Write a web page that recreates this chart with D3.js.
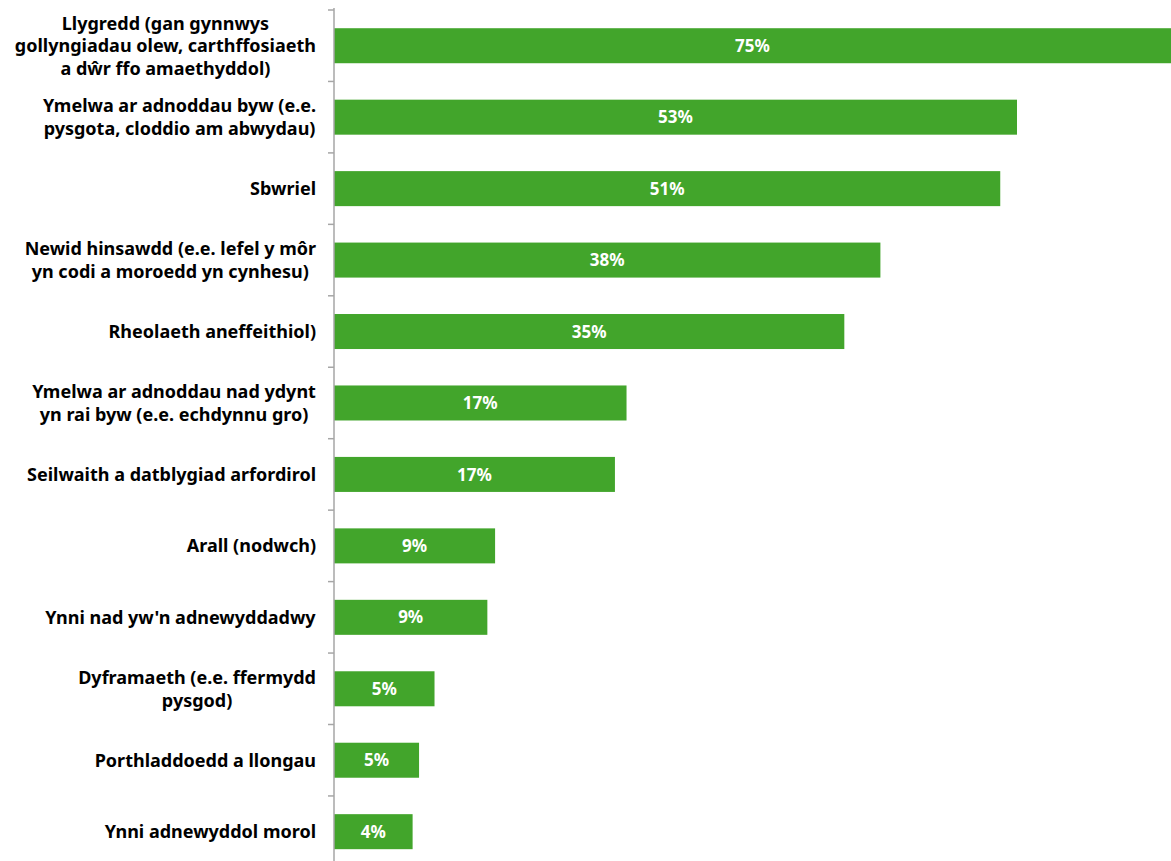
<!DOCTYPE html>
<html>
<head>
<meta charset="utf-8">
<script src="https://cdn.jsdelivr.net/npm/d3@7"></script>
<style>
  body { margin: 0; background: #fff; }
  text { font-family: "Noto Sans", sans-serif; font-weight: 700; }
</style>
</head>
<body>
<script>
// categories, each label split into its lines
const categories = [
  ["Llygredd (gan gynnwys", "gollyngiadau olew, carthffosiaeth", "a dŵr ffo amaethyddol)"],
  ["Ymelwa ar adnoddau byw (e.e.", "pysgota, cloddio am abwydau)"],
  ["Sbwriel"],
  ["Newid hinsawdd (e.e. lefel y môr", "yn codi a moroedd yn cynhesu)"],
  ["Rheolaeth aneffeithiol)"],
  ["Ymelwa ar adnoddau nad ydynt", "yn rai byw (e.e. echdynnu gro)"],
  ["Seilwaith a datblygiad arfordirol"],
  ["Arall (nodwch)"],
  ["Ynni nad yw'n adnewyddadwy"],
  ["Dyframaeth (e.e. ffermydd", "pysgod)"],
  ["Porthladdoedd a llongau"],
  ["Ynni adnewyddol morol"]
];
// printed labels
const pctLabels = ["75%", "53%", "51%", "38%", "35%", "17%", "17%", "9%", "9%", "5%", "5%", "4%"];
// bar lengths as drawn (first bar runs off the edge)
const barValues = [65, 53, 51.7, 42.4, 39.6, 22.7, 21.8, 12.5, 11.9, 7.8, 6.6, 6.1];

const W = 1171, H = 861;
const axisX = 334;
const svg = d3.select("body").append("svg").attr("width", W).attr("height", H);

const y = d3.scaleBand()
  .domain(d3.range(categories.length))
  .range([10, 10 + 71.45 * categories.length])
  .paddingInner(0.51).paddingOuter(0.255);

const x = d3.scaleLinear().domain([0, 53]).range([axisX, 1017]);

const rows = svg.selectAll(".row").data(barValues).enter().append("g").attr("class", "row");

rows.append("rect")
  .attr("x", axisX)
  .attr("y", (d, i) => y(i))
  .attr("width", d => Math.min(x(d), W) - axisX)
  .attr("height", y.bandwidth())
  .attr("fill", "#42a52b");

rows.append("text")
  .attr("x", d => (axisX + Math.min(x(d), W)) / 2)
  .attr("y", (d, i) => y(i) + y.bandwidth() / 2)
  .attr("dy", "0.36em")
  .attr("text-anchor", "middle")
  .attr("fill", "#fff")
  .style("font-size", "17px")
  .text((d, i) => pctLabels[i]);

// axis line and ticks between categories
svg.append("line")
  .attr("x1", axisX).attr("x2", axisX).attr("y1", 8).attr("y2", H)
  .attr("stroke", "#a6a6a6").attr("stroke-width", 1.5);
const step = y.step();
d3.range(categories.length + 1).forEach(k => {
  const ty = 10 + k * step;
  svg.append("line")
    .attr("x1", axisX - 6).attr("x2", axisX).attr("y1", ty).attr("y2", ty)
    .attr("stroke", "#a6a6a6").attr("stroke-width", 1.5);
});

// category labels: block right aligned, lines centred inside the block
const labelRight = 316, lineH = 22.5;
categories.forEach((lines, i) => {
  const g = svg.append("g");
  const cy = y(i) + y.bandwidth() / 2;
  const t = g.append("text").attr("text-anchor", "middle").style("font-size", "18px").attr("fill", "#000");
  lines.forEach((ln, j) => {
    t.append("tspan").attr("x", 0)
      .attr("y", cy + (j - (lines.length - 1) / 2) * lineH)
      .attr("dy", "0.36em").text(ln);
  });
  const bw = t.node().getBBox().width;
  t.attr("transform", `translate(${labelRight - bw / 2},0)`);
});
</script>
</body>
</html>
